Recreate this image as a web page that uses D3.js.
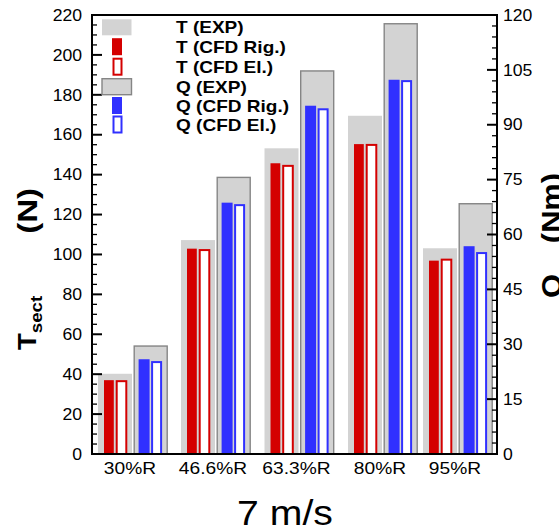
<!DOCTYPE html>
<html><head><meta charset="utf-8">
<script src="https://cdn.jsdelivr.net/npm/d3@7"></script>
<style>body{margin:0;background:#fff}svg{display:block}text{font-family:"Liberation Sans",Arial,sans-serif}</style>
</head><body><svg id="c" width="559" height="532"></svg>
<script>
const categories = ["30%R","46.6%R","63.3%R","80%R","95%R"];
const radialPos = [30, 46.6, 63.3, 80, 95];
const tExp = [40.2, 107.2, 153.2, 169.5, 103.1];
const tRig = [37.0, 102.9, 145.7, 155.3, 96.9];
const tEl  = [37.0, 102.7, 144.9, 155.4, 97.9];
const qExp = [29.7, 75.8, 104.9, 117.8, 68.6];
const qRig = [25.9, 68.7, 95.2, 102.3, 56.8];
const qEl  = [25.4, 68.3, 94.5, 102.2, 55.2];
const tTicks = [0,20,40,60,80,100,120,140,160,180,200,220];
const qTicks = [0,15,30,45,60,75,90,105,120];
const legendLabels = ["T (EXP)","T (CFD Rig.)","T (CFD El.)","Q (EXP)","Q (CFD Rig.)","Q (CFD El.)"];

const RED="#d40000", BLUE="#3030ff", GRAY="#d3d3d3", GSTROKE="#858585";
const svg = d3.select("#c");
const L=92,R=497,T=15,B=454;
const x = d3.scaleLinear().domain([21.8,102.8]).range([L,R]);
const yT = d3.scaleLinear().domain([0,220]).range([B,T]);
const yQ = d3.scaleLinear().domain([0,120]).range([B,T]);
const SX=1.13;

function txt(g,xp,yp,s,o){
  o=o||{};
  const t=g.append("text").attr("transform",`translate(${xp},${yp}) rotate(${o.rot||0}) scale(${o.sx||SX},1)`)
    .attr("text-anchor",o.anchor||"start").attr("font-size",o.size||16)
    .attr("font-weight",o.bold?"bold":"normal").attr("fill","#000");
  if(s!==null) t.text(s);
  return t;
}

const bars = svg.append("g");
const data = categories.map((c,i)=>({c,r:radialPos[i],te:tExp[i],tr:tRig[i],tl:tEl[i],qe:qExp[i],qr:qRig[i],ql:qEl[i]}));
data.forEach(d=>{
  const c=x(d.r);
  bars.append("rect").attr("x",c-35).attr("y",yT(d.te)).attr("width",34).attr("height",B-yT(d.te)).attr("fill",GRAY);
  bars.append("rect").attr("x",c+1.2).attr("y",yQ(d.qe)+0.7).attr("width",33).attr("height",B-yQ(d.qe)-0.7)
    .attr("fill",GRAY).attr("stroke",GSTROKE).attr("stroke-width",1.4);
  bars.append("rect").attr("x",c-29).attr("y",yT(d.tr)).attr("width",9.8).attr("height",B-yT(d.tr)).attr("fill",RED);
  bars.append("rect").attr("x",c-16.3).attr("y",yT(d.tl)+1).attr("width",9.6).attr("height",B-yT(d.tl)-1)
    .attr("fill","#fff").attr("stroke",RED).attr("stroke-width",2);
  bars.append("rect").attr("x",c+5.6).attr("y",yQ(d.qr)).attr("width",11).attr("height",B-yQ(d.qr)).attr("fill",BLUE);
  bars.append("rect").attr("x",c+19.1).attr("y",yQ(d.ql)+1).attr("width",9).attr("height",B-yQ(d.ql)-1)
    .attr("fill","#fff").attr("stroke",BLUE).attr("stroke-width",2);
});

const ax = svg.append("g").attr("stroke","#000");
d3.range(0,221,5).forEach(v=>{
  const maj=v%20===0;
  ax.append("line").attr("x1",L).attr("x2",L+(maj?10:5)).attr("y1",yT(v)).attr("y2",yT(v)).attr("stroke-width",maj?2:1.3);
});
d3.range(0,121,3).forEach(v=>{
  const maj=v%15===0;
  ax.append("line").attr("x1",R).attr("x2",R-(maj?10:5)).attr("y1",yQ(v)).attr("y2",yQ(v)).attr("stroke-width",maj?2:1.3);
});
svg.append("rect").attr("x",L).attr("y",T).attr("width",R-L).attr("height",B-T).attr("fill","none").attr("stroke","#000").attr("stroke-width",2);

const lab = svg.append("g");
tTicks.forEach(v=>txt(lab,82,yT(v)+5.7,String(v),{anchor:"end",size:16,sx:1.1}));
qTicks.forEach(v=>txt(lab,503,yQ(v)+5.7,String(v),{anchor:"start",size:16,sx:1.1}));
data.forEach(d=>txt(lab,x(d.r)-3,473.5,d.c,{anchor:"middle",size:17,sx:1.13}));

// axis titles
const t1 = txt(lab,36,350,null,{rot:-90,anchor:"start",size:25,bold:true,sx:1.1});
t1.append("tspan").text("T");
t1.append("tspan").attr("font-size",17).attr("dy",6).text("sect");
txt(lab,37,188,"(N)",{rot:-90,anchor:"end",size:28,bold:true,sx:1.18});
const t2 = txt(lab,561,298,null,{rot:-90,anchor:"start",size:28,bold:true,sx:1.1});
t2.append("tspan").text("Q");
t2.append("tspan").attr("font-size",18).attr("dy",10).text("sect");
txt(lab,561,173,"(Nm)",{rot:-90,anchor:"end",size:28,bold:true,sx:1.1});

txt(lab,285,525,"7 m/s",{anchor:"middle",size:35,sx:1.12});

const lg = svg.append("g");
const rowsY=[27.3,46.7,66.7,86.7,105.5,124.5];
const sw = [
  {k:"exp",fill:GRAY,stroke:"none"},
  {k:"solid",fill:RED},
  {k:"hollow",stroke:RED},
  {k:"exp",fill:GRAY,stroke:GSTROKE},
  {k:"solid",fill:BLUE},
  {k:"hollow",stroke:BLUE}
];
legendLabels.forEach((s,i)=>{
  const cy=rowsY[i], o=sw[i];
  if(o.k==="exp"){
    lg.append("rect").attr("x",102).attr("y",cy-8).attr("width",29.5).attr("height",16).attr("fill",o.fill)
      .attr("stroke",o.stroke).attr("stroke-width",1.4);
  } else if(o.k==="solid"){
    lg.append("rect").attr("x",112).attr("y",cy-8.5).attr("width",10).attr("height",17).attr("fill",o.fill);
  } else {
    lg.append("rect").attr("x",113.5).attr("y",cy-8).attr("width",8).attr("height",16).attr("fill","#fff")
      .attr("stroke",o.stroke).attr("stroke-width",2);
  }
  txt(lg,176,cy+6,s,{size:17,bold:true,sx:1.12});
});
</script></body></html>
